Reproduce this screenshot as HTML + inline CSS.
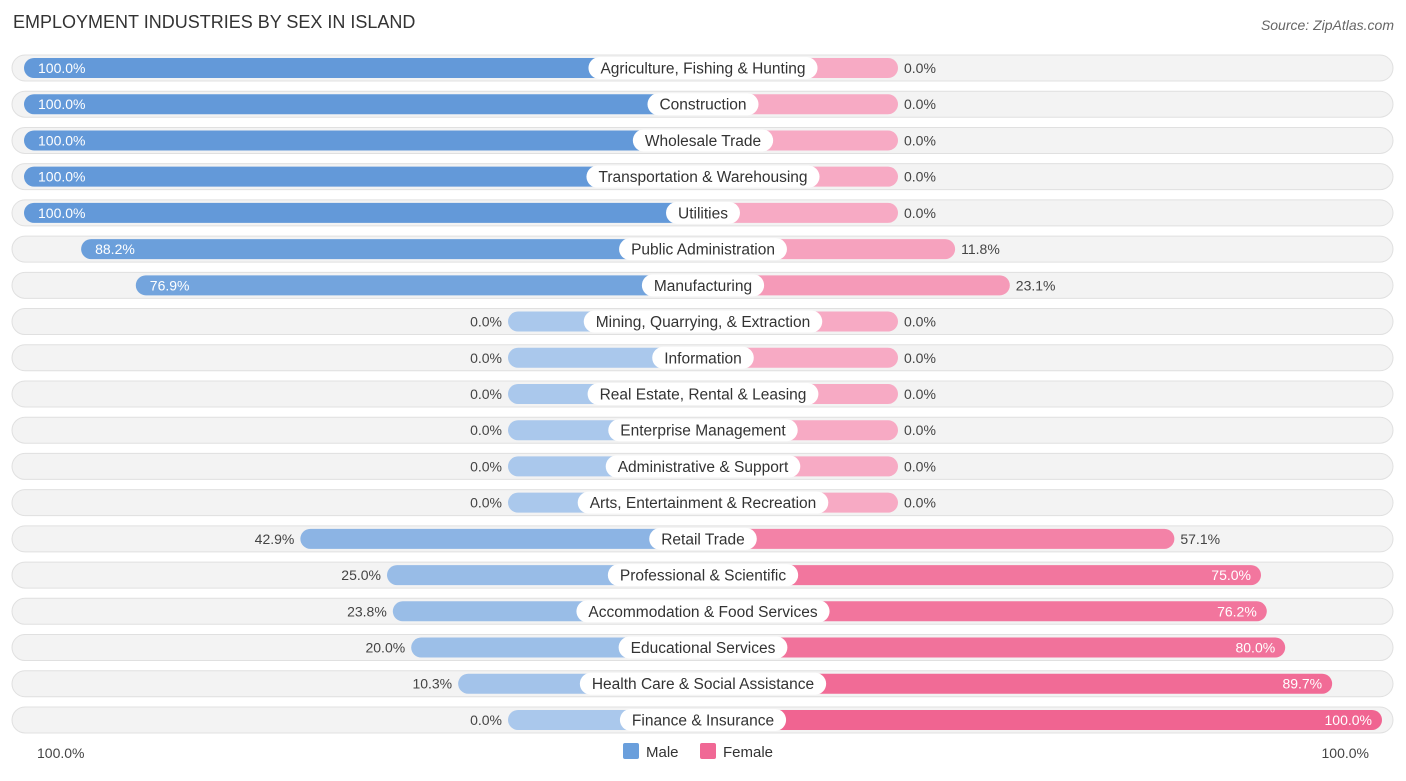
<!DOCTYPE html>
<html><head><meta charset="utf-8"><style>
body{margin:0;background:#fff;font-family:"Liberation Sans",sans-serif;}
svg text{font-family:"Liberation Sans",sans-serif;}
</style></head><body>
<svg id="chart" width="1406" height="776" xmlns="http://www.w3.org/2000/svg">
<text x="13" y="28" font-size="18" fill="#333">EMPLOYMENT INDUSTRIES BY SEX IN ISLAND</text>
<text x="1394" y="30" font-size="14" fill="#666" text-anchor="end" font-style="italic">Source: ZipAtlas.com</text>
<g id="rows"></g>
<text x="37" y="758" font-size="14" fill="#444">100.0%</text>
<text x="1369" y="758" font-size="14" fill="#444" text-anchor="end">100.0%</text>
<g>
<rect x="623" y="743" width="16" height="16" rx="2" fill="#6a9fdc"/>
<text x="646" y="757" font-size="15" fill="#333">Male</text>
<rect x="700" y="743" width="16" height="16" rx="2" fill="#f06895"/>
<text x="723" y="757" font-size="15" fill="#333">Female</text>
</g>
</svg>
<script>
const categories=["Agriculture, Fishing & Hunting","Construction","Wholesale Trade","Transportation & Warehousing","Utilities","Public Administration","Manufacturing","Mining, Quarrying, & Extraction","Information","Real Estate, Rental & Leasing","Enterprise Management","Administrative & Support","Arts, Entertainment & Recreation","Retail Trade","Professional & Scientific","Accommodation & Food Services","Educational Services","Health Care & Social Assistance","Finance & Insurance"];
const maleValues=[100,100,100,100,100,88.2,76.9,0,0,0,0,0,0,42.9,25.0,23.8,20.0,10.3,0];
const femaleValues=[0,0,0,0,0,11.8,23.1,0,0,0,0,0,0,57.1,75.0,76.2,80.0,89.7,100];
const NS="http://www.w3.org/2000/svg";
const cx=703,minLen=195,scale=4.84,y0=68,step=36.22;
function len(v){return minLen+scale*v;}
function lerp(a,b,t){return Math.round(a+(b-a)*t);}
function col(c1,c2,t){return `rgb(${lerp(c1[0],c2[0],t)},${lerp(c1[1],c2[1],t)},${lerp(c1[2],c2[2],t)})`;}
function mk(tag,attrs,parent){const e=document.createElementNS(NS,tag);for(const k in attrs)e.setAttribute(k,attrs[k]);parent.appendChild(e);return e;}
const g=document.getElementById('rows');
categories.forEach((c,i)=>{
 const y=y0+i*step;
 const row=mk('g',{},g);
 
 
 const tr=mk('rect',{x:12,y:y-13,width:1381,height:26,rx:13,fill:'#f3f3f3',stroke:'#e0e0e0','stroke-width':1},row);
 
 
 const m=maleValues[i],f=femaleValues[i];
 const ml=len(m),fl=len(f);
 const mb=mk('rect',{x:cx-ml,y:y-10,width:ml,height:20,rx:10,fill:col([170,200,236],[99,153,217],m/100)},row);
 
 
 const fb=mk('rect',{x:cx,y:y-10,width:fl,height:20,rx:10,fill:col([247,170,196],[240,100,145],f/100)},row);
 
 
 const mIn=m>60;
 const mt=mk('text',{x:mIn?cx-ml+14:cx-ml-6,y:y+5,'font-size':14,fill:mIn?'#fff':'#444','text-anchor':mIn?'start':'end'},row);
 mt.textContent=m.toFixed(1)+'%';
 
 
 const fIn=f>60;
 const ft=mk('text',{x:fIn?cx+fl-10:cx+fl+6,y:y+5,'font-size':14,fill:fIn?'#fff':'#444','text-anchor':fIn?'end':'start'},row);
 ft.textContent=f.toFixed(1)+'%';
 
 
 const lt=mk('text',{x:cx,y:y+5.5,'font-size':15.5,fill:'#333','text-anchor':'middle'},row);
 lt.textContent=c;
 const w=lt.getComputedTextLength()+24;
 const lb=mk('rect',{x:cx-w/2,y:y-11,width:w,height:22,rx:11,fill:'#fff'},row);
 row.insertBefore(lb,lt);
 
 
 
 
});
</script>
</body></html>
